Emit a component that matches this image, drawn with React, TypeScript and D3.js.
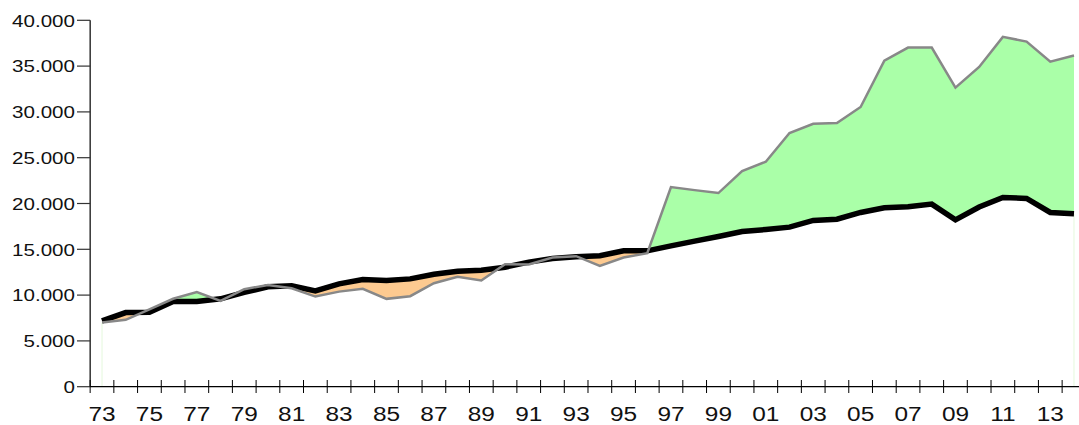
import React from "react";
import * as d3 from "d3";

const years: number[] = d3.range(1973, 2015);
const seriesA: number[] = [
  7180, 8090, 8130, 9300, 9290, 9590, 10300, 10900, 11010, 10460, 11230,
  11700, 11600, 11770, 12280, 12610, 12720, 13050, 13600, 13990, 14180, 14290,
  14830, 14830, 15380, 15890, 16400, 16950, 17160, 17420, 18150, 18290, 19020,
  19530, 19640, 19930, 18220, 19610, 20660, 20550, 19020, 18880,
];
const seriesB: number[] = [
  7000, 7300, 8450, 9600, 10320, 9370, 10650, 11100, 10750, 9840, 10380,
  10680, 9590, 9880, 11300, 11990, 11590, 13380, 13340, 14100, 14250, 13190,
  14100, 14580, 21790, 21460, 21140, 23540, 24560, 27700, 28710, 28790, 30540,
  35600, 37020, 37020, 32650, 34910, 38190, 37680, 35490, 36150,
];
const yTicks: number[] = [0, 5000, 10000, 15000, 20000, 25000, 30000, 35000, 40000];

const W = 1079;
const H = 425;
const left = 90.15;
const band = 23.707;
const top = 20.3;
const bottom = 386.7;
const stretch = 1.19;

export default function App() {
  const data = years.map((yr, i) => ({ yr, a: seriesA[i], b: seriesB[i] }));
  const x = d3
    .scaleBand<number>()
    .domain(years)
    .range([left, left + band * years.length])
    .padding(0);
  const cx = (yr: number) => (x(yr) as number) + x.bandwidth() / 2;
  const y = d3.scaleLinear().domain([0, 40000]).range([bottom, top]);

  const fmt = (v: number) => (v === 0 ? "0" : d3.format(",")(v).replace(/,/g, "."));

  const clipAbove = d3
    .area<any>()
    .x((d) => cx(d.yr))
    .y0(0)
    .y1((d) => y(d.a))(data) as string;
  const clipBelow = d3
    .area<any>()
    .x((d) => cx(d.yr))
    .y0(H)
    .y1((d) => y(d.a))(data) as string;
  const between = d3
    .area<any>()
    .x((d) => cx(d.yr))
    .y0((d) => y(d.b))
    .y1((d) => y(d.a))(data) as string;
  const lineA = d3
    .line<any>()
    .x((d) => cx(d.yr))
    .y((d) => y(d.a))(data) as string;
  const lineB = d3
    .line<any>()
    .x((d) => cx(d.yr))
    .y((d) => y(d.b))(data) as string;

  const first = data[0];
  const last = data[data.length - 1];
  const bounds = d3.range(years.length + 1).map((k) => left + k * x.bandwidth());

  return (
    <svg
      width={W}
      height={H}
      style={{ position: "absolute", left: 0, top: 0, fontFamily: "'Liberation Sans', Arial, sans-serif" }}
    >
      <defs>
        <clipPath id="clip-above">
          <path d={clipAbove} />
        </clipPath>
        <clipPath id="clip-below">
          <path d={clipBelow} />
        </clipPath>
      </defs>
      <line x1={cx(first.yr)} x2={cx(first.yr)} y1={y(first.b)} y2={y(0)} stroke="#e4f8dc" strokeWidth={1} />
      <line x1={cx(last.yr)} x2={cx(last.yr)} y1={y(last.a)} y2={y(0)} stroke="#e4f8dc" strokeWidth={1} />
      <path d={between} fill="#aaffa8" clipPath="url(#clip-above)" />
      <path d={between} fill="#fdca90" clipPath="url(#clip-below)" />
      <path d={lineA} fill="none" stroke="#000" strokeWidth={5.5} strokeLinejoin="miter" />
      <path d={lineB} fill="none" stroke="#888" strokeWidth={2.5} strokeLinejoin="miter" />

      {/* y axis */}
      <line x1={left} x2={left} y1={top} y2={bottom} stroke="#000" strokeWidth={1.2} />
      {yTicks.map((t) => (
        <g key={t}>
          <line x1={77} x2={left} y1={y(t)} y2={y(t)} stroke="#333" strokeWidth={1.2} />
          <text
            transform={`translate(75,${y(t)}) scale(${stretch},1)`}
            dy="0.36em"
            textAnchor="end"
            fontSize={17.3}
            fill="#111"
          >
            {fmt(t)}
          </text>
        </g>
      ))}

      {/* x axis */}
      <line x1={left} x2={W} y1={bottom} y2={bottom} stroke="#000" strokeWidth={1.2} />
      {bounds.map((b, k) => (
        <line key={k} x1={b} x2={b} y1={380} y2={393} stroke="#000" strokeWidth={1} />
      ))}
      {years
        .filter((yr, i) => i % 2 === 0)
        .map((yr) => (
          <text
            key={yr}
            transform={`translate(${cx(yr)},420.7) scale(${stretch},1)`}
            textAnchor="middle"
            fontSize={20.5}
            fill="#111"
          >
            {String(yr).slice(2)}
          </text>
        ))}
    </svg>
  );
}
